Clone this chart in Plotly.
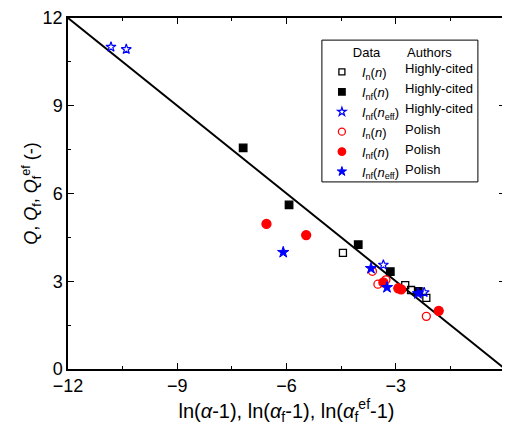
import plotly.graph_objects as go

# Data
hc_In_x = [-4.45, -2.74, -2.58, -2.16]
hc_In_y = [3.97, 2.87, 2.70, 2.43]
hc_Inf_x = [-7.19, -5.93, -4.03, -3.15, -2.38]
hc_Inf_y = [7.56, 5.61, 4.25, 3.33, 2.65]
hc_Ineff_x = [-10.82, -10.40, -3.34, -2.22]
hc_Ineff_y = [11.01, 10.93, 3.56, 2.62]
pl_In_x = [-3.64, -3.49, -3.27, -2.16]
pl_In_y = [3.34, 2.90, 3.05, 1.80]
pl_Inf_x = [-6.55, -5.46, -3.34, -2.93, -2.85, -1.82]
pl_Inf_y = [4.96, 4.58, 2.96, 2.76, 2.72, 1.99]
pl_Ineff_x = [-6.09, -3.68, -3.24, -2.39]
pl_Ineff_y = [3.99, 3.44, 2.79, 2.58]
line_x = [-12, 0]
line_y = [12, 0]

data_labels = ["<i>I</i><sub>n</sub>(<i>n</i>)", "<i>I</i><sub>nf</sub>(<i>n</i>)",
               "<i>I</i><sub>nf</sub>(<i>n</i><sub>eff</sub>)", "<i>I</i><sub>n</sub>(<i>n</i>)",
               "<i>I</i><sub>nf</sub>(<i>n</i>)", "<i>I</i><sub>nf</sub>(<i>n</i><sub>eff</sub>)"]
author_labels = ["Highly-cited", "Highly-cited", "Highly-cited", "Polish", "Polish", "Polish"]

FONT = "Liberation Sans, Arial, sans-serif"
nb = "&nbsp;"

fig = go.Figure()
fig.add_trace(go.Scatter(x=line_x, y=line_y, mode="lines",
                         line=dict(color="black", width=2), showlegend=False, hoverinfo="skip"))

series = [
    (hc_In_x, hc_In_y, "square-open", "black", 7, 6, 1.3),
    (hc_Inf_x, hc_Inf_y, "square", "black", 7.5, 6.5, 1.3),
    (hc_Ineff_x, hc_Ineff_y, "star-open", "blue", 7.5, 6.5, 1.2),
    (pl_In_x, pl_In_y, "circle-open", "red", 8, 7, 1.3),
    (pl_Inf_x, pl_Inf_y, "circle", "red", 9, 7.5, 1.3),
    (pl_Ineff_x, pl_Ineff_y, "star", "blue", 8.5, 7, 1.0),
]

for i, (x, y, sym, col, sz, lsz, lw) in enumerate(series):
    name = data_labels[i] + " " + author_labels[i]
    fig.add_trace(go.Scatter(x=x, y=y, mode="markers", name=name, showlegend=False,
                             marker=dict(symbol=sym, color=col, size=sz, line=dict(color=col, width=lw))))
for i, (x, y, sym, col, sz, lsz, lw) in enumerate(series):
    fig.add_trace(go.Scatter(x=[None], y=[None], mode="markers", name=data_labels[i],
                             legendgroup="g%d" % i, hoverinfo="skip",
                             marker=dict(symbol=sym, color=col, size=lsz, line=dict(color=col, width=lw))))

axis_common = dict(showgrid=False, zeroline=False, showline=True, linecolor="black", linewidth=1.5,
                   mirror="ticks", ticks="inside", ticklen=6, tickwidth=1.2, tickcolor="black",
                   automargin=False,
                   tickfont=dict(size=18, family=FONT, color="black"),
                   minor=dict(ticks="inside", ticklen=3, tickwidth=1.2, tickcolor="black", dtick=1.5))

fig.update_xaxes(range=[-12, 0], tickvals=[-12, -9, -6, -3, 0], **axis_common,
                 title=dict(text="ln(<i>α</i>-1), ln(<i>α</i><sub>f</sub>-1), ln(<i>α</i><sub>f</sub><sup>ef</sup>-1)",
                            font=dict(size=20, family=FONT, color="black"), standoff=4))
fig.update_yaxes(range=[0, 12], tickvals=[0, 3, 6, 9, 12], **axis_common,
                 title=dict(text="<i>Q</i>, <i>Q</i><sub>f</sub>, <i>Q</i><sub>f</sub><sup>ef</sup> (-)",
                            font=dict(size=18, family=FONT, color="black"), standoff=0))

# Authors column of the legend table
author_y = [0.855, 0.798, 0.741, 0.681, 0.624, 0.567]
annotations = [dict(x=0.771, y=0.903, xref="paper", yref="paper", text="Authors", showarrow=False,
                    xanchor="left", yanchor="middle", font=dict(size=13, family=FONT, color="black"))]
for yy, txt in zip(author_y, author_labels):
    annotations.append(dict(x=0.767, y=yy, xref="paper", yref="paper", text=txt, showarrow=False,
                            xanchor="left", yanchor="middle", font=dict(size=13, family=FONT, color="black")))

fig.update_layout(
    width=502, height=424,
    margin=dict(l=60, r=5, t=10, b=63),
    paper_bgcolor="white", plot_bgcolor="white",
    font=dict(family=FONT, color="black"),
    annotations=annotations,
    shapes=[dict(type="rect", xref="paper", yref="paper", x0=0.581, x1=0.938, y0=0.533, y1=0.937,
                 line=dict(color="black", width=1), fillcolor="rgba(0,0,0,0)", layer="below")],
    legend=dict(x=0.581, y=0.937, xanchor="left", yanchor="top",
                bgcolor="rgba(0,0,0,0)", borderwidth=0,
                font=dict(size=13, family=FONT, color="black"),
                title=dict(text=nb * 8 + "Data", font=dict(size=13, family=FONT)),
                itemwidth=30, tracegroupgap=0),
)

fig.write_html("out.html")
